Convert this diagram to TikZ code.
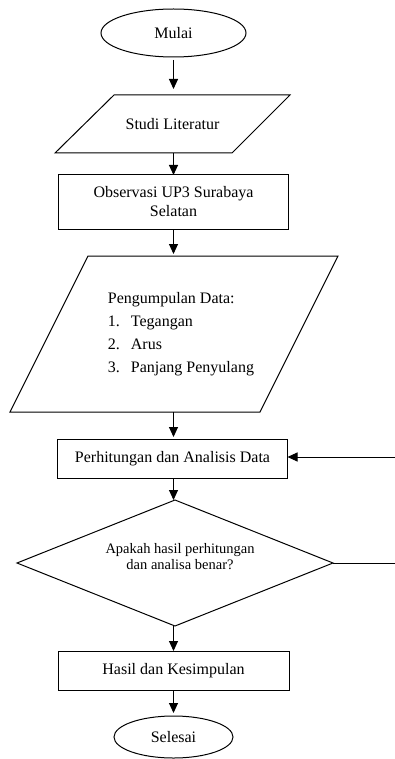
\documentclass[tikz,border=0pt]{standalone}
\usepackage{fontspec}
\setmainfont{Liberation Serif}
\usetikzlibrary{shapes.geometric,arrows.meta}
\begin{document}
\begin{tikzpicture}[x=1pt,y=-1pt,
  line width=1pt,
  txt/.style={font=\fontsize{16}{19}\selectfont, inner sep=0pt, outer sep=0pt},
  oval/.style={txt, draw, ellipse},
  procbox/.style={txt, draw, rectangle},
  ghost/.style={txt, draw=none},
  arr/.style={-{Triangle[length=10pt,width=9pt]}}]
\useasboundingbox (0,0) rectangle (395,759);
% nodes
\node[oval, minimum width=145pt, minimum height=48pt] (mulai) at (173.5,33) {Mulai};
\node[ghost, minimum height=58pt] (studi) at (173.5,124) {};
\node[txt] (studitext) at (172.5,124) {Studi Literatur};
\draw (114,95) -- (290,95) -- (232,153) -- (55,153) -- cycle;
\node[procbox, minimum width=230pt, minimum height=54pt, align=center] (obs) at (173.5,202) {Observasi UP3 Surabaya\\Selatan};
\node[ghost, minimum height=156pt] (data) at (173.5,334) {};
\draw (88,256) -- (338,256) -- (260,412) -- (10,412) -- cycle;
\node[txt, font=\fontsize{16}{23}\selectfont, align=left] (datatext) at (181,334)
  {Pengumpulan Data:\\
   \makebox[23pt][l]{1.}Tegangan\\
   \makebox[23pt][l]{2.}Arus\\
   \makebox[23pt][l]{3.}Panjang Penyulang};
\node[procbox, minimum width=230pt, minimum height=39pt] (hitung) at (172.5,458.5) {Perhitungan dan Analisis Data};
\node[ghost, minimum width=316pt, minimum height=126pt] (dec) at (173.5,563) {};
\draw (175,500) -- (333,563) -- (175,626) -- (17,563) -- cycle;
\node[txt, font=\fontsize{14.5}{16}\selectfont, align=center] (dectext) at (180,557) {Apakah hasil perhitungan\\dan analisa benar?};
\node[procbox, minimum width=231pt, minimum height=39pt] (hasil) at (173.5,670.5) {Hasil dan Kesimpulan};
\node[oval, minimum width=119pt, minimum height=42pt] (selesai) at (173.5,737) {Selesai};
\coordinate (fbR) at (395,563);
\coordinate (fbT) at (395,457);
% connectors
\draw[arr, shorten <=3pt, shorten >=6pt] (mulai.south) -- (studi.north);
\draw[arr] (studi.south) -- (obs.north);
\draw[arr, shorten >=2pt] (obs.south) -- (data.north);
\draw[arr, shorten >=2pt] (data.south) -- (data.south |- hitung.north);
\draw[arr] (data.south |- hitung.south) -- (dec.north);
\draw[arr] (dec.south) -- (hasil.north);
\draw[arr, shorten >=3pt] (hasil.south) -- (selesai.north);
\draw (333,563) -- (fbR);
\draw[arr] (fbT) -- (hitung.east |- fbT);
\end{tikzpicture}
\end{document}
